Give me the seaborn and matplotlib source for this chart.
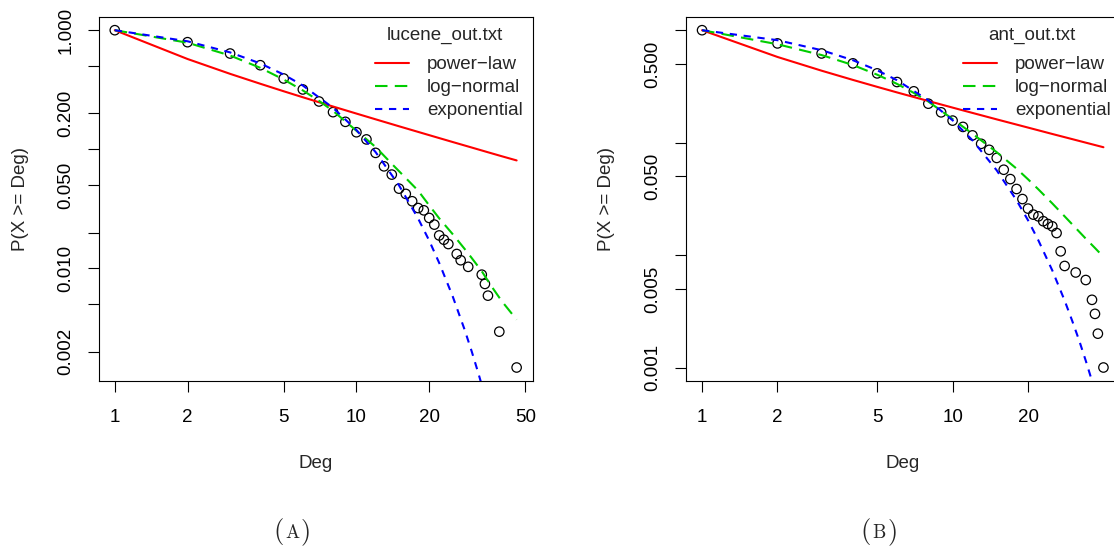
import numpy as np
import pandas as pd
import matplotlib
matplotlib.use("Agg")
import matplotlib.pyplot as plt
from matplotlib.ticker import FixedLocator, NullLocator, NullFormatter, FixedFormatter
import seaborn as sns

# ---------------- data: lucene_out.txt ----------------
lucene_deg = [1, 2, 3, 4, 5, 6, 7, 8, 9, 10, 11, 12, 13, 14, 15, 16, 17, 18, 19, 20,
              21, 22, 23, 24, 26, 27, 29, 33, 34, 35, 39, 46]
lucene_ccdf = [1.0, 0.793, 0.637, 0.508, 0.393, 0.318, 0.252, 0.205, 0.170, 0.139,
               0.121, 0.0933, 0.0719, 0.0613, 0.0467, 0.0422, 0.0366, 0.0321, 0.0307, 0.0265,
               0.0233, 0.0189, 0.0174, 0.0160, 0.0132, 0.0117, 0.0103, 0.00885, 0.0074, 0.0059,
               0.00294, 0.00147]
lucene_pl_x = [1, 2, 3, 4, 5, 6, 7, 8, 10, 12, 15, 20, 25, 30, 35, 40, 46]
lucene_pl_y = [1.0, 0.573, 0.430, 0.355, 0.307, 0.2734, 0.2483, 0.2286, 0.1994, 0.1785,
               0.1560, 0.1314, 0.1151, 0.1034, 0.0944, 0.0873, 0.0806]
lucene_ln_x = [1, 2, 3, 4, 5, 6, 7, 8, 10, 12, 14, 16, 18, 20, 22, 25, 28, 30, 33, 36, 40, 46]
lucene_ln_y = [1.0, 0.785, 0.613, 0.483, 0.385, 0.312, 0.255, 0.210, 0.143, 0.1045,
               0.0755, 0.0573, 0.0449, 0.0338, 0.0263, 0.0194, 0.0146, 0.0122, 0.00946,
               0.00718, 0.00528, 0.00371]
lucene_ex_x = [1, 2, 3, 4, 5, 6, 8, 10, 12, 15, 18, 20, 22, 25, 28, 30, 32, 34, 36]
lucene_ex_y = [1.0, 0.807, 0.651, 0.526, 0.424, 0.343, 0.223, 0.145, 0.0947, 0.0498,
               0.0262, 0.0171, 0.0111, 0.00584, 0.00307, 0.00200, 0.00130, 0.00085, 0.00055]

# ---------------- data: ant_out.txt ----------------
ant_deg = [1, 2, 3, 4, 5, 6, 7, 8, 9, 10, 11, 12, 13, 14, 15, 16, 17, 18, 19, 20,
           21, 22, 23, 24, 25, 26, 27, 28, 31, 34, 36, 37, 38, 40]
ant_ccdf = [1.0, 0.763, 0.621, 0.507, 0.413, 0.346, 0.286, 0.222, 0.186, 0.157,
            0.138, 0.116, 0.0976, 0.0863, 0.0731, 0.0574, 0.0474, 0.0387, 0.0315, 0.0259,
            0.0229, 0.0221, 0.0200, 0.0189, 0.0180, 0.0157, 0.0108, 0.0080, 0.0070, 0.0060,
            0.0040, 0.0030, 0.0020, 0.0010]
ant_pl_x = [1, 2, 3, 4, 5, 6, 8, 10, 12, 15, 20, 25, 30, 35, 40]
ant_pl_y = [1.0, 0.578, 0.4363, 0.3613, 0.3134, 0.2796, 0.2345, 0.2049, 0.1838, 0.1610,
            0.1361, 0.1194, 0.1075, 0.0983, 0.0910]
ant_ln_x = [1, 2, 3, 4, 5, 6, 7, 8, 10, 12, 15, 18, 20, 22, 25, 28, 31, 34, 37, 40]
ant_ln_y = [1.0, 0.750, 0.601, 0.490, 0.402, 0.333, 0.277, 0.232, 0.162, 0.120,
            0.0822, 0.0587, 0.0472, 0.0384, 0.0288, 0.0221, 0.0174, 0.0140, 0.01156, 0.00964]
ant_ex_x = [1, 2, 3, 4, 5, 6, 8, 10, 12, 15, 18, 20, 22, 25, 28, 30, 32, 34, 36, 38, 40]
ant_ex_y = [1.0, 0.815, 0.664, 0.541, 0.440, 0.359, 0.238, 0.158, 0.105, 0.0567,
            0.0307, 0.0204, 0.0135, 0.0073, 0.00394, 0.00261, 0.00174, 0.00115, 0.00076,
            0.00051, 0.00034]

x_ticks = [1, 2, 5, 10, 20, 50]
x_tick_labels = ["1", "2", "5", "10", "20", "50"]
lucene_yticks = [1, 0.5, 0.2, 0.1, 0.05, 0.02, 0.01, 0.005, 0.002]
lucene_ylabels = ["1.000", "", "0.200", "", "0.050", "", "0.010", "", "0.002"]
ant_yticks = [1, 0.5, 0.1, 0.05, 0.01, 0.005, 0.001]
ant_ylabels = ["", "0.500", "", "0.050", "", "0.005", "0.001"]

legend_labels = ["power\u2212law", "log\u2212normal", "exponential"]

# ---------------- style ----------------
sns.set_style("ticks")
plt.rcParams["font.family"] = ["Liberation Sans", "DejaVu Sans"]
FS = 13.5

W, H = 1114, 549
fig = plt.figure(figsize=(W / 100, H / 100), dpi=100)


def px_axes(l, r, t, b):
    return fig.add_axes([l / W, 1 - b / H, (r - l) / W, (b - t) / H])


def r_lims(vals):
    lo, hi = np.log10(min(vals)), np.log10(max(vals))
    pad = 0.04 * (hi - lo)
    return 10 ** (lo - pad), 10 ** (hi + pad)


def panel(ax, deg, ccdf, plx, ply, lnx, lny, exx, exy, title, yticks, ylabels,
          ylab_x, leg_x, title_x):
    ax.set_xscale("log")
    ax.set_yscale("log")
    sns.scatterplot(x=deg, y=ccdf, ax=ax, marker="o", s=46, facecolor="none",
                    edgecolor="black", linewidth=0.9, zorder=2)
    sns.lineplot(x=plx, y=ply, ax=ax, color="#FF0000", lw=1.5,
                 label=legend_labels[0], zorder=3)
    sns.lineplot(x=lnx, y=lny, ax=ax, color="#00CD00", lw=1.5,
                 linestyle=(0, (6, 3.5)), label=legend_labels[1], zorder=3)
    sns.lineplot(x=exx, y=exy, ax=ax, color="#0000FF", lw=1.5,
                 linestyle=(0, (3.5, 3.2)), label=legend_labels[2], zorder=3)

    ax.set_xlim(*r_lims(deg))
    ax.set_ylim(*r_lims(ccdf))

    ax.xaxis.set_major_locator(FixedLocator(x_ticks))
    ax.xaxis.set_major_formatter(FixedFormatter(x_tick_labels))
    ax.xaxis.set_minor_locator(NullLocator())
    ax.xaxis.set_minor_formatter(NullFormatter())
    ax.yaxis.set_major_locator(FixedLocator(yticks))
    ax.yaxis.set_major_formatter(FixedFormatter(ylabels))
    ax.yaxis.set_minor_locator(NullLocator())
    ax.yaxis.set_minor_formatter(NullFormatter())

    ax.tick_params(axis="both", which="major", direction="out", length=8,
                   width=0.8, color="black", labelsize=FS, labelcolor="black")
    ax.tick_params(axis="x", pad=12)
    ax.tick_params(axis="y", pad=9.5)
    for lab in ax.get_yticklabels():
        lab.set_rotation(90)
        lab.set_va("center")
        lab.set_ha("right")

    for sp in ax.spines.values():
        sp.set_visible(True)
        sp.set_color("black")
        sp.set_linewidth(0.8)

    ax.set_xlabel("Deg", fontsize=FS)
    ax.set_ylabel("P(X >= Deg)", fontsize=FS)
    ax.xaxis.set_label_coords(0.5, -0.2259)
    ax.xaxis.label.set_va("center")
    ax.yaxis.set_label_coords(ylab_x, 0.5)
    ax.yaxis.label.set_va("center")
    ax.yaxis.label.set_rotation_mode("anchor")

    ax.legend(loc="upper right", bbox_to_anchor=(leg_x, 0.892), frameon=False,
              fontsize=FS, handlelength=1.8, handletextpad=0.95,
              labelspacing=0.32, borderaxespad=0, borderpad=0)
    ax.text(title_x, 0.949, title, transform=ax.transAxes, ha="center",
            va="center", fontsize=FS)


ax1 = px_axes(98.7, 532.7, 16.7, 381.0)
panel(ax1, lucene_deg, lucene_ccdf, lucene_pl_x, lucene_pl_y, lucene_ln_x, lucene_ln_y,
      lucene_ex_x, lucene_ex_y, "lucene_out.txt", lucene_yticks, lucene_ylabels,
      -0.1813, 0.977, 0.798)

ax2 = px_axes(686.0, 1119.5, 16.7, 381.0)
panel(ax2, ant_deg, ant_ccdf, ant_pl_x, ant_pl_y, ant_ln_x, ant_ln_y,
      ant_ex_x, ant_ex_y, "ant_out.txt", ant_yticks, ant_ylabels,
      -0.1845, 0.9797, 0.7975)


def caption(cx, letter):
    base = 1 - 538 / H
    fig.text((cx - 13.5) / W, base, "(", family="cmr10", fontsize=19,
             ha="center", va="baseline")
    fig.text(cx / W, base, letter, family="cmr10", fontsize=13.5,
             ha="center", va="baseline")
    fig.text((cx + 13.5) / W, base, ")", family="cmr10", fontsize=19,
             ha="center", va="baseline")


caption(292.5, "A")
caption(879.0, "B")

fig.savefig("out.png", dpi=100)
